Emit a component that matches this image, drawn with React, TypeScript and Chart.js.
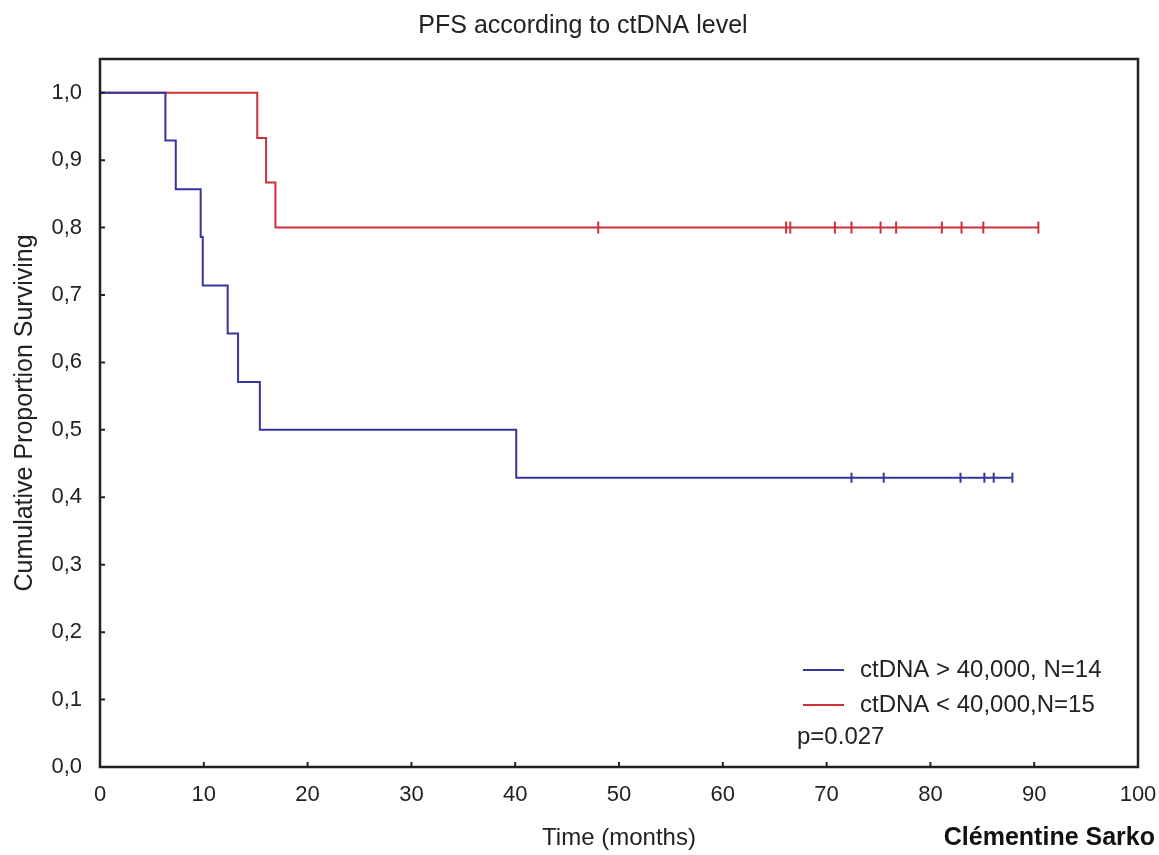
import React, { useEffect, useRef } from 'react';
import { Chart, registerables } from 'chart.js';

Chart.register(...registerables);

const TITLE = 'PFS according to ctDNA level';
const X_TITLE = 'Time (months)';
const Y_TITLE = 'Cumulative Proportion Surviving';
const AUTHOR = 'Clémentine Sarko';
const P_VALUE = 'p=0.027';

const highLabel = 'ctDNA > 40,000, N=14';
const highTimes = [0, 6.3, 7.3, 9.7, 9.9, 12.3, 13.3, 15.4, 40.1, 87.9];
const highSurv = [1.0, 0.929, 0.857, 0.786, 0.714, 0.643, 0.571, 0.5, 0.429, 0.429];
const highCensored = [72.4, 75.5, 82.9, 85.2, 86.1, 87.9];

const lowLabel = 'ctDNA < 40,000,N=15';
const lowTimes = [0, 15.15, 16.0, 16.9, 90.4];
const lowSurv = [1.0, 0.933, 0.867, 0.8, 0.8];
const lowCensored = [48.0, 66.1, 66.5, 70.8, 72.4, 75.2, 76.7, 81.1, 83.0, 85.1, 90.4];

const xTicks = [0, 10, 20, 30, 40, 50, 60, 70, 80, 90, 100];
const yTicks = [0, 0.1, 0.2, 0.3, 0.4, 0.5, 0.6, 0.7, 0.8, 0.9, 1.0];

const BLUE = '#35359e';
const RED = '#cc3038';
const TEXT = '#222222';
const FONT = '"Liberation Sans", Arial, sans-serif';

function survivalAt(times: number[], surv: number[], t: number): number {
  let v = surv[0];
  for (let i = 0; i < times.length; i++) {
    if (times[i] <= t) v = surv[i];
  }
  return v;
}

const frameAndLegend = {
  id: 'frameAndLegend',
  afterDatasetsDraw(chart: any) {
    const { ctx, chartArea } = chart;
    const { left, right, top, bottom } = chartArea;
    ctx.save();
    ctx.strokeStyle = '#222';
    ctx.lineWidth = 2.5;
    ctx.strokeRect(left, top, right - left, bottom - top);
    // inward ticks
    const xs = chart.scales.x;
    const ys = chart.scales.y;
    ctx.lineWidth = 2;
    ctx.beginPath();
    xs.ticks.forEach((t: any) => {
      const px = xs.getPixelForValue(t.value);
      ctx.moveTo(px, bottom);
      ctx.lineTo(px, bottom - 5);
    });
    ys.ticks.forEach((t: any) => {
      const py = ys.getPixelForValue(t.value);
      ctx.moveTo(left, py);
      ctx.lineTo(left + 5, py);
    });
    ctx.stroke();

    // legend
    const items = [
      { label: highLabel, color: BLUE },
      { label: lowLabel, color: RED },
    ];
    const lx = right - 335;
    const ly = bottom - 97;
    ctx.font = `24px ${FONT}`;
    ctx.textBaseline = 'middle';
    ctx.textAlign = 'left';
    items.forEach((it, i) => {
      const y = ly + i * 35;
      ctx.strokeStyle = it.color;
      ctx.lineWidth = 2;
      ctx.beginPath();
      ctx.moveTo(lx, y);
      ctx.lineTo(lx + 41, y);
      ctx.stroke();
      ctx.fillStyle = TEXT;
      ctx.fillText(it.label, lx + 57, y);
    });
    ctx.fillText(P_VALUE, lx - 6, ly + 67);
    ctx.restore();
  },
};

export default function App() {
  const ref = useRef<HTMLCanvasElement | null>(null);

  useEffect(() => {
    if (!ref.current) return;
    const mkLine = (times: number[], surv: number[]) =>
      times.map((t, i) => ({ x: t, y: surv[i] }));
    const mkCens = (cens: number[], times: number[], surv: number[]) =>
      cens.map((t) => ({ x: t, y: survivalAt(times, surv, t) }));

    const chart = new Chart(ref.current, {
      type: 'line',
      data: {
        datasets: [
          {
            label: highLabel,
            data: mkLine(highTimes, highSurv),
            stepped: 'before',
            borderColor: BLUE,
            borderWidth: 2,
            pointRadius: 0,
            fill: false,
          } as any,
          {
            label: lowLabel,
            data: mkLine(lowTimes, lowSurv),
            stepped: 'before',
            borderColor: RED,
            borderWidth: 2,
            pointRadius: 0,
            fill: false,
          } as any,
          {
            type: 'scatter',
            label: highLabel + ' censored',
            data: mkCens(highCensored, highTimes, highSurv),
            showLine: false,
            pointStyle: 'line',
            pointRotation: 90,
            pointRadius: 5,
            pointBorderWidth: 2,
            pointBorderColor: BLUE,
            borderColor: BLUE,
          } as any,
          {
            type: 'scatter',
            label: lowLabel + ' censored',
            data: mkCens(lowCensored, lowTimes, lowSurv),
            showLine: false,
            pointStyle: 'line',
            pointRotation: 90,
            pointRadius: 6,
            pointBorderWidth: 2,
            pointBorderColor: RED,
            borderColor: RED,
          } as any,
        ],
      },
      options: {
        responsive: false,
        animation: false,
        layout: { padding: { left: 28, right: 21, top: 0, bottom: 0 } },
        plugins: {
          legend: { display: false },
          tooltip: { enabled: false },
          title: {
            display: true,
            text: TITLE,
            color: TEXT,
            font: { size: 25, weight: 'normal', family: FONT },
            padding: { top: 11, bottom: 18 },
          },
        },
        scales: {
          x: {
            type: 'linear',
            min: 0,
            max: 100,
            afterBuildTicks: (s: any) => {
              s.ticks = xTicks.map((v) => ({ value: v }));
            },
            afterFit: (s: any) => {
              s.height = 88;
              s.paddingLeft = 0;
              s.paddingRight = 0;
            },
            grid: { display: false, drawTicks: false },
            border: { display: false },
            ticks: {
              padding: 15,
              color: TEXT,
              font: { size: 22, family: FONT },
              maxRotation: 0,
              autoSkip: false,
            },
            title: {
              display: true,
              text: X_TITLE,
              color: TEXT,
              font: { size: 24, family: FONT },
              padding: { top: 0, bottom: 2 },
            },
          },
          y: {
            type: 'linear',
            min: 0,
            max: 1.05,
            afterBuildTicks: (s: any) => {
              s.ticks = yTicks.map((v) => ({ value: v }));
            },
            afterFit: (s: any) => {
              s.width = 72;
              s.paddingTop = 0;
              s.paddingBottom = 0;
            },
            grid: { display: false, drawTicks: false },
            border: { display: false },
            ticks: {
              padding: 18,
              color: TEXT,
              font: { size: 22, family: FONT },
              autoSkip: false,
              callback: (v: any) => Number(v).toFixed(1).replace('.', ','),
            },
            title: {
              display: true,
              text: Y_TITLE,
              color: TEXT,
              font: { size: 25, family: FONT },
              padding: { top: -18, bottom: 0 },
            },
          },
        },
      },
      plugins: [frameAndLegend],
    });
    return () => chart.destroy();
  }, []);

  return (
    <div
      style={{
        position: 'fixed',
        left: 0,
        top: 0,
        width: 1159,
        height: 855,
        background: '#ffffff',
      }}
    >
      <canvas ref={ref} width={1159} height={855} />
      <div
        style={{
          position: 'absolute',
          right: 4,
          top: 822,
          font: `bold 25px ${FONT}`,
          color: '#111',
          whiteSpace: 'nowrap',
        }}
      >
        {AUTHOR}
      </div>
    </div>
  );
}
